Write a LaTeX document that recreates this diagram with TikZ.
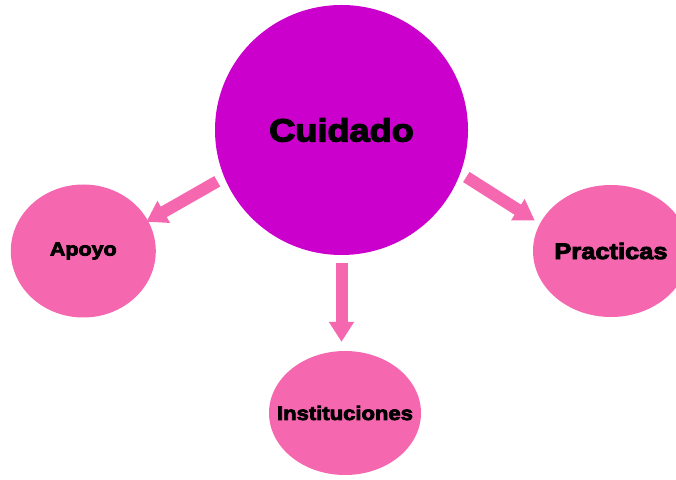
\documentclass[tikz,border=0pt]{standalone}
\usepackage{fontspec}
\usepackage{tikz}
\usetikzlibrary{shapes.geometric,arrows.meta}
\newfontfamily\gruesa{Liberation Sans Bold}[FakeStretch=1.13, FakeBold=4]
\definecolor{magenta1}{RGB}{204,0,204}
\definecolor{rosa1}{RGB}{245,103,175}

\begin{document}
\begin{tikzpicture}
 [x=1pt, y=1pt,
  centro node/.style={ellipse, inner sep=0pt, fill=magenta1, minimum width=253pt, minimum height=250pt, font=\gruesa\fontsize{32}{36}\selectfont},
  rama node/.style={ellipse, inner sep=0pt, fill=rosa1},
  rama text/.style={font=\gruesa\fontsize{#1}{#1}\selectfont}]

\tikzset{flecha/.style={draw=rosa1, line width=12pt, -{Triangle[width=24pt,length=20pt]}}}

\useasboundingbox (0,0) rectangle (676,479);
\clip (0,0) rectangle (676,479);

\node[centro node] (cuidado) at (341.5,349) {Cuidado};
  \node[rama node, minimum width=145pt, minimum height=133pt, label={[rama text=19]center:Apoyo}] (apoyo) at (83.3,228) {};
\node[rama node, minimum width=156pt, minimum height=132pt, label={[rama text=22.5]center:Practicas}] (practicas) at (611,228) {};
 \node[rama node, minimum width=152pt, minimum height=124pt, label={[rama text=19.5]center:Instituciones}] (instituciones) at (345,66) {};

\path
  (cuidado.202.5) edge [flecha, shorten <=8pt, shorten >=-2pt] (apoyo.25)
  (cuidado.-20.8) edge [flecha, shorten <=7pt, shorten >=6pt] (practicas.159.6)
  (cuidado.south) edge [flecha, shorten <=8pt, shorten >=9pt] (cuidado.south |- instituciones.north);

\end{tikzpicture}
\end{document}
